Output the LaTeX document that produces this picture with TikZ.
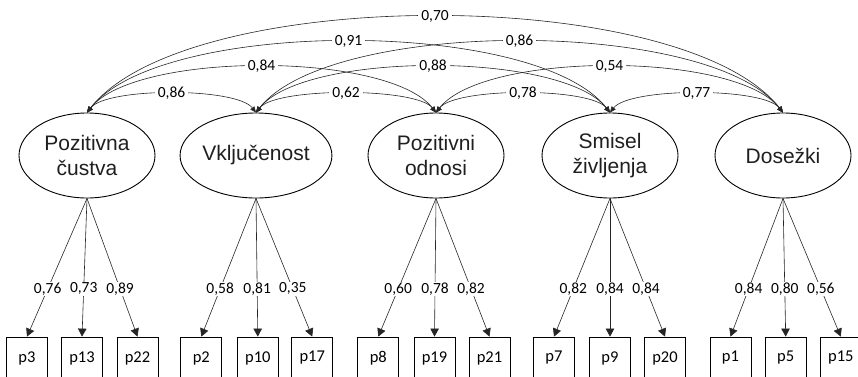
\documentclass[tikz,border=0pt]{standalone}
\usepackage{fontspec}
\setmainfont{Liberation Sans}
\newfontfamily\numfont{Carlito}
\usetikzlibrary{shapes.geometric,arrows.meta}

\tikzset{
  factor/.style={ellipse, draw=black, line width=0.9pt, minimum width=136pt,
    minimum height=85pt, inner sep=0pt, align=center, text=black!88,
    font=\fontsize{21}{25}\selectfont},
  item/.style={rectangle, draw=black, line width=0.8pt, minimum width=41pt,
    minimum height=42pt, inner sep=0pt, font=\numfont\fontsize{16.5}{18}\selectfont},
  load/.style={draw=black!85, line width=0.6pt,
    -{Triangle[length=8pt,width=8.5pt]}},
  cov/.style={draw=black!85, line width=0.6pt,
    {Triangle[length=6pt,width=5pt]}-{Triangle[length=6pt,width=5pt]}},
  val/.style={fill=white, inner xsep=3pt, inner ysep=1pt,
    font=\numfont\fontsize{15.5}{17}\selectfont},
}

\begin{document}
\begin{tikzpicture}[x=1pt,y=1pt]
\useasboundingbox (0,0) rectangle (858,376);
\clip (0,0) rectangle (858,376);

% latent factors
\node[factor] (E1) at (87,220.5)  {Pozitivna\\čustva};
\node[factor] (E2) at (256,220.5) {Vključenost};
\node[factor] (E3) at (436,220.5) {Pozitivni\\odnosi};
\node[factor] (E4) at (610,220.5) {Smisel\\življenja};
\node[factor] (E5) at (783,220.5) {Dosežki};

% observed items
\node[item] (p3)  at (27,18)    {p3};
\node[item] (p13) at (82,18)    {p13};
\node[item] (p22) at (137.5,18) {p22};
\node[item] (p2)  at (201.3,18) {p2};
\node[item] (p10) at (257.8,18) {p10};
\node[item] (p17) at (312.2,18) {p17};
\node[item] (p8)  at (378.3,18) {p8};
\node[item] (p19) at (434.5,18) {p19};
\node[item] (p21) at (489.5,18) {p21};
\node[item] (p7)  at (554,18)   {p7};
\node[item] (p9)  at (610,18)   {p9};
\node[item] (p20) at (665,18)   {p20};
\node[item] (p1)  at (730.5,18) {p1};
\node[item] (p5)  at (785.7,18) {p5};
\node[item] (p15) at (840.8,18) {p15};

% factor loadings
\draw[load] (E1.south) -- node[val,pos=.655] (l3)  {0,76} (p3.north);
\draw[load] (E1.south) -- node[val,pos=.655] (l13) {0,73} (p13.north);
\draw[load] (E1.south) -- node[val,pos=.655] (l22) {0,89} (p22.north);
\draw[load] (E2.south) -- node[val,pos=.655] (l2)  {0,58} (p2.north);
\draw[load] (E2.south) -- node[val,pos=.655] (l10) {0,81} (p10.north);
\draw[load] (E2.south) -- node[val,pos=.655] (l17) {0,35} (p17.north);
\draw[load] (E3.south) -- node[val,pos=.655] (l8)  {0,60} (p8.north);
\draw[load] (E3.south) -- node[val,pos=.655] (l19) {0,78} (p19.north);
\draw[load] (E3.south) -- node[val,pos=.655] (l21) {0,82} (p21.north);
\draw[load] (E4.south) -- node[val,pos=.655] (l7)  {0,82} (p7.north);
\draw[load] (E4.south) -- node[val,pos=.655] (l9)  {0,84} (p9.north);
\draw[load] (E4.south) -- node[val,pos=.655] (l20) {0,84} (p20.north);
\draw[load] (E5.south) -- node[val,pos=.655] (l1)  {0,84} (p1.north);
\draw[load] (E5.south) -- node[val,pos=.655] (l5)  {0,80} (p5.north);
\draw[load] (E5.south) -- node[val,pos=.655] (l15) {0,56} (p15.north);

% factor correlations (curves first, values on top afterwards)
\draw[cov] (E1.north) .. controls +(19.7,25.3) and +(-19.7,25.3) .. coordinate[pos=.5] (m12) (E2.north);
\draw[cov] (E2.north) .. controls +(19.7,25.3) and +(-19.7,25.3) .. coordinate[pos=.5] (m23) (E3.north);
\draw[cov] (E3.north) .. controls +(19.7,25.3) and +(-19.7,25.3) .. coordinate[pos=.5] (m34) (E4.north);
\draw[cov] (E4.north) .. controls +(19.7,25.3) and +(-19.7,25.3) .. coordinate[pos=.5] (m45) (E5.north);
\draw[cov] (E1.north) .. controls +(47.8,61.3) and +(-47.8,61.3) .. coordinate[pos=.5] (m13) (E3.north);
\draw[cov] (E2.north) .. controls +(47.8,61.3) and +(-47.8,61.3) .. coordinate[pos=.5] (m24) (E4.north);
\draw[cov] (E3.north) .. controls +(47.8,61.3) and +(-47.8,61.3) .. coordinate[pos=.5] (m35) (E5.north);
\draw[cov] (E1.north) .. controls +(73.8,94.7) and +(-73.8,94.7) .. coordinate[pos=.5] (m14) (E4.north);
\draw[cov] (E2.north) .. controls +(73.8,94.7) and +(-73.8,94.7) .. coordinate[pos=.5] (m25) (E5.north);
\draw[cov] (E1.north) .. controls +(99.8,128) and +(-99.8,128) .. coordinate[pos=.5] (m15) (E5.north);

\node[val] (r12) at (m12) {0,86};
\node[val] (r23) at (m23) {0,62};
\node[val] (r34) at (m34) {0,78};
\node[val] (r45) at (m45) {0,77};
\node[val] (r13) at (m13) {0,84};
\node[val] (r24) at (m24) {0,88};
\node[val] (r35) at (m35) {0,54};
\node[val] (r14) at (m14) {0,91};
\node[val] (r25) at (m25) {0,86};
\node[val] (r15) at (m15) {0,70};
\end{tikzpicture}
\end{document}
